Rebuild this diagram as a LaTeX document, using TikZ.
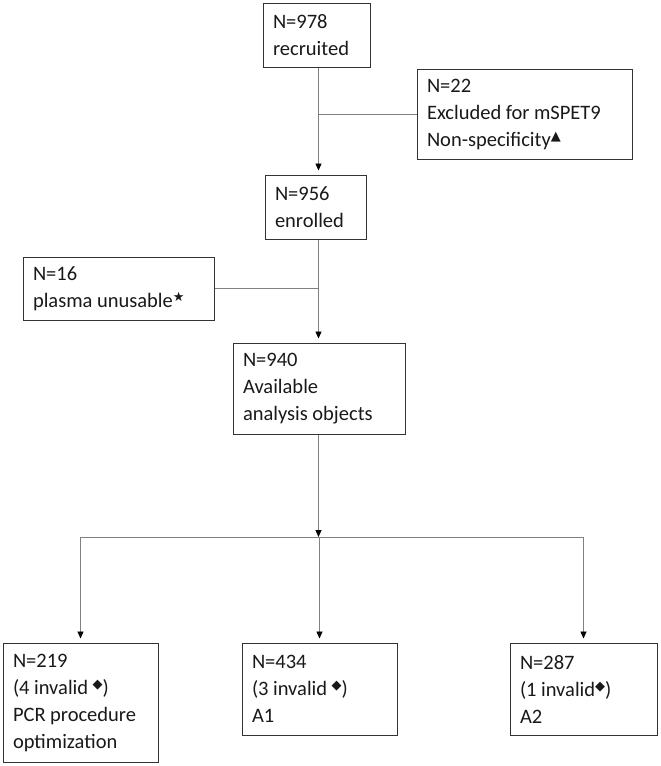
\documentclass[tikz,border=0pt]{standalone}
\usepackage{fontspec}
\setmainfont{Carlito}
\newfontfamily\symfont{DejaVu Sans}
\usetikzlibrary{arrows.meta}
% small raised marks after some counts
\newcommand{\mk}[1]{\raisebox{0.6ex}{\symfont\fontsize{13}{13}\selectfont #1}}
\begin{document}
\begin{tikzpicture}[x=1pt,y=-1pt,
    flowbox/.style={draw=black!80, line width=1pt, rectangle, inner xsep=10pt, inner ysep=0pt,
      align=left, text=black!90, font=\fontsize{20.5}{27}\selectfont,
      execute at begin node={\spaceskip=0.22em\xspaceskip=0.22em\relax}},
    link/.style={draw=black!50, line width=0.9pt},
    arr/.style={link, -{Triangle[length=7pt,width=6pt,color=black]}, shorten >=4pt}]
  \useasboundingbox (0,0) rectangle (661,766);
  \coordinate (trunk) at (318.5,0);
  % boxes
  \node[flowbox, text width=87pt, minimum height=64pt] (recruited) at (316.5,35) {N=978\\recruited};
  \node[flowbox, text width=195pt, minimum height=90pt] (excluded) at (524.5,114) {N=22\\Excluded for mSPET9\\Non-specificity\mk{▲}};
  \node[flowbox, text width=81pt, minimum height=64pt] (enrolled) at (315.5,207) {N=956\\enrolled};
  \node[flowbox, text width=171pt, minimum height=63pt] (plasma) at (118.5,288.5) {N=16\\plasma unusable\mk{★}};
  \node[flowbox, text width=152pt, minimum height=91pt] (avail) at (319,388.5) {N=940\\Available\\analysis objects};
  \node[flowbox, text width=135pt, minimum height=119pt] (pcr) at (80.5,702.5) {N=219\\(4 invalid \mk{◆})\\PCR procedure\\optimization};
  \node[flowbox, text width=135pt, minimum height=92pt] (aone) at (319.5,689) {N=434\\(3 invalid \mk{◆})\\A1};
  \node[flowbox, text width=127pt, minimum height=92pt] (atwo) at (583.5,689) {N=287\\(1 invalid\mk{◆})\\A2};
  % connectors
  \draw[arr] (recruited.south -| trunk) -- (enrolled.north -| trunk);
  \draw[link] (excluded.west) -- (excluded.west -| trunk);
  \draw[arr] (enrolled.south -| trunk) -- (avail.north -| trunk);
  \draw[link] (plasma.east) -- (plasma.east -| trunk);
  \coordinate (split) at (318.5,537);
  \draw[arr, shorten >=0pt] (avail.south -| trunk) -- (split);
  \draw[link] (split -| pcr.north) -- (split -| atwo.north);
  \foreach \b in {pcr,aone,atwo}
    \draw[arr] (split -| \b.north) -- (\b.north);
\end{tikzpicture}
\end{document}
